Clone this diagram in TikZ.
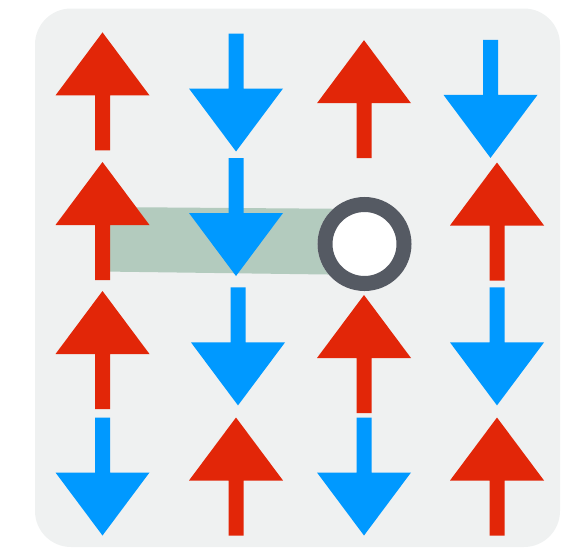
\documentclass[tikz,border=0pt]{standalone}
\usepackage{tikz}

\definecolor{spinred}{RGB}{226,38,8}
\definecolor{spinblue}{RGB}{0,153,255}
\definecolor{panel}{RGB}{239,241,241}
\definecolor{stringgreen}{RGB}{179,203,190}
\definecolor{holering}{RGB}{85,90,99}

\tikzset{
    spin/.pic={
        \path[pic actions] (0,-59) -- (47,4) -- (7.5,4) -- (7.5,59)
            -- (-7.5,59) -- (-7.5,4) -- (-47,4) -- cycle;
    },
    upspin/.style={fill=spinred},
    downspin/.style={fill=spinblue, rotate=180},
}

\begin{document}
\begin{tikzpicture}[x=1pt,y=-1pt]
        \useasboundingbox (0,0) rectangle (573,549);
        \fill[panel, rounded corners=36pt] (35,8.5) rectangle (560,547);
        
        % string left behind by the hole
        \fill[stringgreen] (102,207) -- (365,209) -- (365,275) -- (102,271.5) -- cycle;
        
        \foreach \x/\y in {102.5/91.4, 364/99.2, 102.5/221, 497/221.5, 102.5/350, 364/354, 236/476.5, 497/476.5}
            \pic[upspin] at (\x,\y) {spin};
        \foreach \x/\y in {236/92.5, 490.5/98.9, 236/217, 238/346.4, 497/346.4, 102.5/476.5, 364/476.5}
            \pic[downspin] at (\x,\y) {spin};
        
        % hole
        \node[circle, minimum size=94pt, fill=white] (hole) at (364.5,244) {};
        \draw[holering, line width=15pt] (hole.center) circle[radius=39.5pt];
    \end{tikzpicture}
\end{document}
